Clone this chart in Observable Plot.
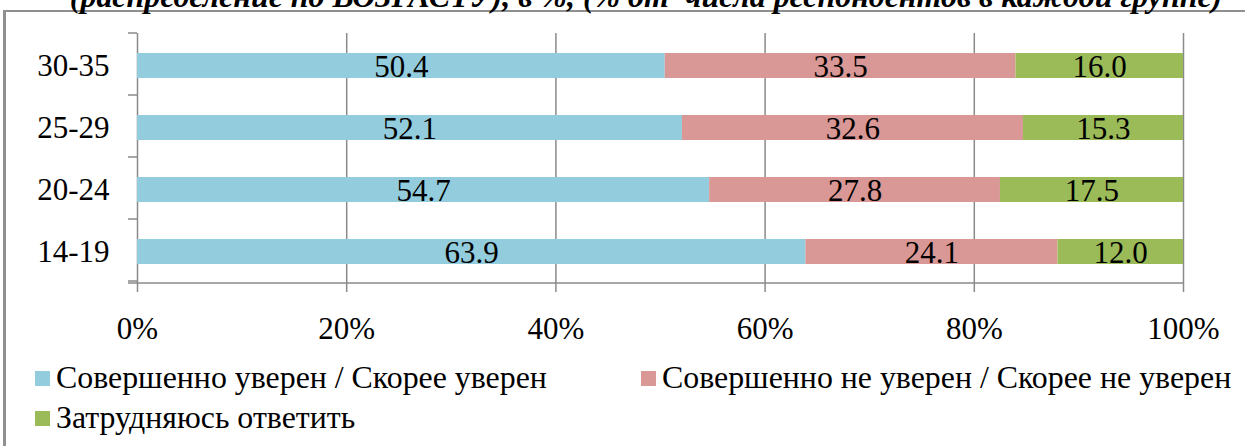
<!DOCTYPE html>
<html>
<head>
<meta charset="utf-8">
<script src="https://cdn.jsdelivr.net/npm/d3@7"></script>
<script src="https://cdn.jsdelivr.net/npm/@observablehq/plot@0.6"></script>
<style>
  html, body { margin: 0; padding: 0; background: #fff; overflow: hidden; }
  #wrap { position: relative; width: 1245px; height: 446px; overflow: hidden; background: #fff; }
  #deco { position: absolute; left: 0; top: 0; }
  #plot { position: absolute; left: 0; top: 0; }
  #plot svg { overflow: visible; }
</style>
</head>
<body>
<div id="wrap">
  <svg id="deco" width="1245" height="446"></svg>
  <div id="plot"></div>
</div>
<script>
// ---- data ----
const title = "(распределение по ВОЗРАСТУ), в %, (% от  числа респондентов в каждой группе)";
const ages = ["30-35", "25-29", "20-24", "14-19"];
const series = [
  "Совершенно уверен / Скорее уверен",
  "Совершенно не уверен / Скорее не уверен",
  "Затрудняюсь ответить"
];
const confident    = [50.4, 52.1, 54.7, 63.9];
const notConfident = [33.5, 32.6, 27.8, 24.1];
const hardToSay    = [16.0, 15.3, 17.5, 12.0];
const colors = ["#93CDDD", "#D99795", "#9BBB59"];
const xTicks = [0, 0.2, 0.4, 0.6, 0.8, 1];

// ---- build table ----
const valuesBySeries = [confident, notConfident, hardToSay];
const rows = [];
ages.forEach((age, i) => {
  valuesBySeries.forEach((arr, j) => rows.push({age, series: series[j], value: arr[i]}));
});

const FONT = "'Liberation Serif', 'Times New Roman', serif";
const GRAY = "#8a8a8a";

const chart = Plot.plot({
  width: 1245,
  height: 350,
  marginLeft: 137,
  marginRight: 62,
  marginTop: 33,
  marginBottom: 67,
  style: {fontFamily: FONT, background: "transparent", overflow: "visible"},
  x: {domain: [0, 1], ticks: xTicks, tickFormat: d3.format(".0%"), label: null},
  y: {domain: ages, paddingInner: 0.6, paddingOuter: 0.3, label: null},
  color: {domain: series, range: colors},
  marks: [
    Plot.ruleX(xTicks, {stroke: GRAY, strokeWidth: 1.5}),
    Plot.barX(rows, Plot.stackX({x: "value", y: "age", fill: "series", order: series, offset: "normalize"})),
    Plot.text(rows, Plot.stackX({
      x: "value", y: "age", z: "series", order: series, offset: "normalize",
      text: d => d.value.toFixed(1), fontSize: 31, fill: "black", dy: 1
    })),
    Plot.axisX({ticks: xTicks, tickFormat: d3.format(".0%"), tickSize: 9, tickPadding: 24,
      fontSize: 31, stroke: GRAY, strokeWidth: 1.5, fill: "black", label: null}),
    Plot.axisY({tickSize: 0, tickPadding: 28, fontSize: 31, fill: "black", label: null})
  ]
});
document.getElementById("plot").appendChild(chart);

// ---- axis decorations (band boundary ticks & bottom axis line) from the plot's scales ----
const ys = chart.scale("y");
const xs = chart.scale("x");
const x0 = xs.apply(0), x1 = xs.apply(1);
const [yTop, yBot] = ys.range;
const svgSel = d3.select(chart);
const g = svgSel.append("g").attr("stroke", GRAY).attr("stroke-width", 1.5);
const boundaries = d3.range(ages.length + 1).map(k => yTop + k * ys.step);
g.selectAll("line.bt").data(boundaries).join("line")
  .attr("x1", x0 - 9).attr("x2", x0).attr("y1", d => d).attr("y2", d => d);
g.append("line").attr("x1", x0 - 9).attr("x2", x1).attr("y1", yBot).attr("y2", yBot);

// ---- frame, title, legend ----
const deco = d3.select("#deco");
deco.append("line").attr("x1", 4.5).attr("x2", 4.5).attr("y1", 10).attr("y2", 460)
  .attr("stroke", "#8f8f8f").attr("stroke-width", 3);
deco.append("line").attr("x1", 3).attr("x2", 1260).attr("y1", 11).attr("y2", 11)
  .attr("stroke", "#8f8f8f").attr("stroke-width", 2);

const ctx = document.createElement("canvas").getContext("2d");
function fit(text, style, target) {
  ctx.font = `${style} 30px ${FONT}`;
  return 30 * target / ctx.measureText(text).width;
}
const titleSize = fit(title, "italic bold", 1153);
deco.append("text").attr("x", 646).attr("y", 7).attr("text-anchor", "middle")
  .attr("font-family", FONT).attr("font-style", "italic").attr("font-weight", "bold")
  .attr("font-size", titleSize).style("white-space", "pre").text(title);

const legendSize = fit(series[0], "", 491);
const legendPos = [{x: 35, y: 388}, {x: 641, y: 388}, {x: 35, y: 428}];
series.forEach((s, i) => {
  const p = legendPos[i];
  deco.append("rect").attr("x", p.x).attr("y", p.y - 17).attr("width", 15).attr("height", 15)
    .attr("fill", colors[i]);
  deco.append("text").attr("x", p.x + 21).attr("y", p.y)
    .attr("font-family", FONT).attr("font-size", legendSize).attr("fill", "black").text(s);
});
</script>
</body>
</html>
